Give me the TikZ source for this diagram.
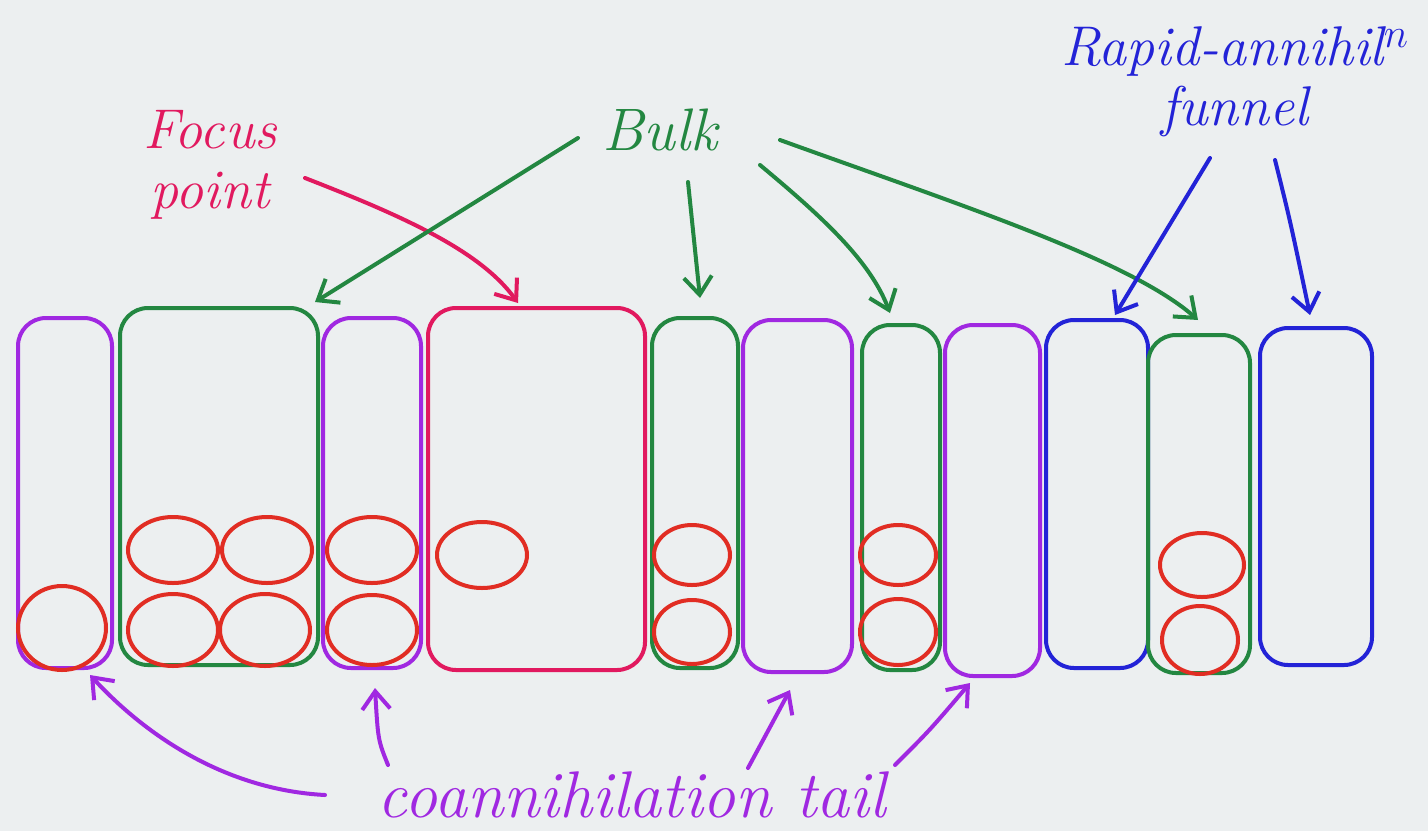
\documentclass[tikz,border=0pt]{standalone}
\usetikzlibrary{arrows.meta,shapes.geometric,fit}
\definecolor{bg}{RGB}{236,239,240}
\definecolor{cpurple}{RGB}{160,40,225}
\definecolor{cgreen}{RGB}{35,135,65}
\definecolor{cmag}{RGB}{225,25,95}
\definecolor{cred}{RGB}{225,45,35}
\definecolor{cblue}{RGB}{35,35,215}
\begin{document}
\begin{tikzpicture}[x=0.5pt,y=-0.5pt, line width=2pt,
 box/.style={draw, rounded corners=14pt, inner sep=0pt},
 ell/.style={ellipse, draw=cred, inner sep=0pt},
 arr/.style={-{Straight Barb[length=9pt,width=14pt]}, line cap=round},
 lbl/.style={font=\fontsize{28}{30}\selectfont\itshape, align=center, inner sep=2pt}]
\fill[bg] (0,0) rectangle (1428,831);
\useasboundingbox (0,0) rectangle (1428,831);
% boxes
\node[box, draw=cpurple, fit={(18,318) (112,668)}] (b1) {};
\node[box, draw=cgreen, fit={(120,308) (318,665)}] (b2) {};
\node[box, draw=cpurple, fit={(323,318) (421,668)}] (b3) {};
\node[box, draw=cmag, fit={(428,308) (645,670)}] (b4) {};
\node[box, draw=cgreen, fit={(652,318) (738,668)}] (b5) {};
\node[box, draw=cpurple, fit={(743,320) (852,672)}] (b6) {};
\node[box, draw=cgreen, fit={(862,325) (940,670)}] (b7) {};
\node[box, draw=cpurple, fit={(945,325) (1040,676)}] (b8) {};
\node[box, draw=cblue, fit={(1046,320) (1148,668)}] (b9) {};
\node[box, draw=cgreen, fit={(1148,335) (1250,673)}] (b10) {};
\node[box, draw=cblue, fit={(1260,328) (1372,665)}] (b11) {};
% circles
\node[ell, minimum width=44pt, minimum height=42pt] (c1) at (62,628) {};
\node[ell, minimum width=45pt, minimum height=33pt] (c2) at (173,550) {};
\node[ell, minimum width=45pt, minimum height=33pt] (c3) at (267,550) {};
\node[ell, minimum width=45pt, minimum height=36pt] (c4) at (173,630) {};
\node[ell, minimum width=45pt, minimum height=36pt] (c5) at (265,630) {};
\node[ell, minimum width=45pt, minimum height=33pt] (c6) at (372,550) {};
\node[ell, minimum width=45pt, minimum height=35pt] (c7) at (372,630) {};
\node[ell, minimum width=45pt, minimum height=33pt] (c8) at (482,555) {};
\node[ell, minimum width=38pt, minimum height=30pt] (c9) at (692,555) {};
\node[ell, minimum width=38pt, minimum height=32pt] (c10) at (692,632) {};
\node[ell, minimum width=38pt, minimum height=30pt] (c11) at (898,555) {};
\node[ell, minimum width=38pt, minimum height=33pt] (c12) at (898,632) {};
\node[ell, minimum width=42pt, minimum height=32pt] (c13) at (1202,565) {};
\node[ell, minimum width=38pt, minimum height=34pt] (c14) at (1200,640) {};
% labels
\node[lbl, text=cmag] (fp) at (210,165) {Focus\\point};
\node[lbl, text=cgreen, font=\fontsize{30}{32}\selectfont\itshape] (bulk) at (660,130) {Bulk};
\node[lbl, text=cblue] (fun) at (1235,82) {Rapid-annihil$^{n}$\\funnel};
\node[lbl, text=cpurple, font=\fontsize{33}{35}\selectfont\itshape] (co) at (632,795) {coannihilation tail};
% arrow coordinates
\coordinate (fps) at (305,178);
\coordinate (fpe) at (518,303);
\coordinate (bk1s) at (578,138);
\coordinate (bk1e) at (315,302);
\coordinate (bk2s) at (688,182);
\coordinate (bk2e) at (700,298);
\coordinate (bk3s) at (760,165);
\coordinate (bk3e) at (890,313);
\coordinate (bk4s) at (780,140);
\coordinate (bk4e) at (1198,320);
\coordinate (fu1s) at (1210,158);
\coordinate (fu1e) at (1115,315);
\coordinate (fu2s) at (1275,160);
\coordinate (fu2e) at (1310,315);
\coordinate (co1s) at (325,795);
\coordinate (co1e) at (90,675);
\coordinate (co2s) at (388,765);
\coordinate (co2e) at (375,688);
\coordinate (co3s) at (748,768);
\coordinate (co3e) at (790,690);
\coordinate (co4s) at (895,765);
\coordinate (co4e) at (970,683);
% arrows
\draw[arr, cmag] (fps) .. controls (400,215) and (480,250) .. (fpe);
\draw[arr, cgreen] (bk1s) -- (bk1e);
\draw[arr, cgreen] (bk2s) -- (bk2e);
\draw[arr, cgreen] (bk3s) .. controls (820,215) and (870,260) .. (bk3e);
\draw[arr, cgreen] (bk4s) .. controls (960,205) and (1130,260) .. (bk4e);
\draw[arr, cblue] (fu1s) -- (fu1e);
\draw[arr, cblue] (fu2s) .. controls (1290,220) .. (fu2e);
\draw[arr, cpurple] (co1s) .. controls (230,790) and (150,740) .. (co1e);
\draw[arr, cpurple] (co2s) .. controls (378,740) .. (co2e);
\draw[arr, cpurple] (co3s) -- (co3e);
\draw[arr, cpurple] (co4s) .. controls (930,730) .. (co4e);
\end{tikzpicture}
\end{document}
